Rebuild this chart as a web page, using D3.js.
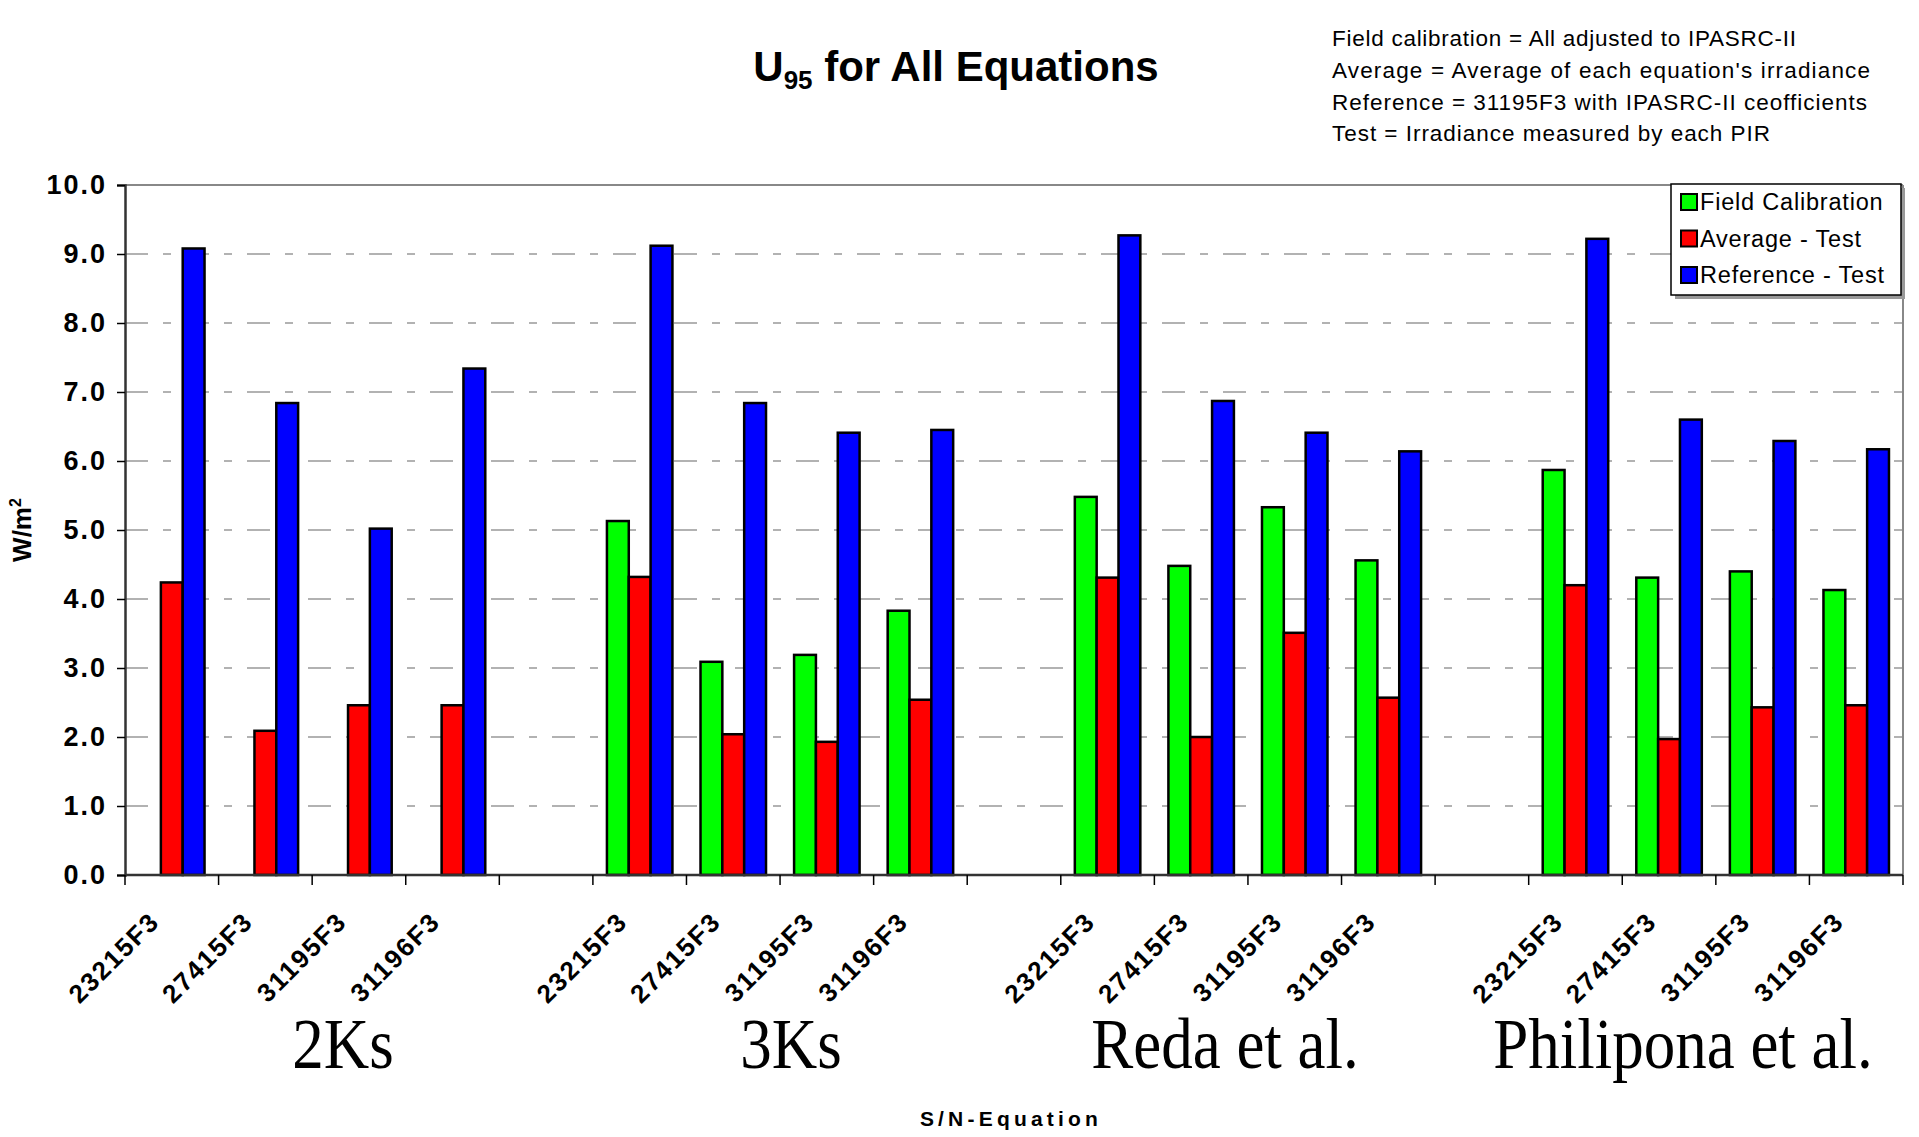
<!DOCTYPE html>
<html>
<head>
<meta charset="utf-8">
<script src="https://cdn.jsdelivr.net/npm/d3@7"></script>
<style>
  body { margin: 0; background: #fff; }
  svg { display: block; font-family: Arial, "Liberation Sans", sans-serif; }
</style>
</head>
<body>
<svg id="chart" width="1919" height="1137"></svg>
<script>
// data
var groups = ["2Ks", "3Ks", "Reda et al.", "Philipona et al."];
var serials = ["23215F3", "27415F3", "31195F3", "31196F3"];
var seriesNames = ["Field Calibration", "Average - Test", "Reference - Test"];
var seriesColors = ["#00ff00", "#ff0000", "#0000ff"];

// one row per group, one value per serial (null = no bar)
var fieldCal = [
  [null, null, null, null],
  [5.13, 3.09, 3.19, 3.83],
  [5.48, 4.48, 5.33, 4.56],
  [5.87, 4.31, 4.40, 4.13]
];
var avgTest = [
  [4.24, 2.09, 2.46, 2.46],
  [4.32, 2.04, 1.93, 2.54],
  [4.31, 2.00, 3.51, 2.57],
  [4.20, 1.97, 2.43, 2.46]
];
var refTest = [
  [9.08, 6.84, 5.02, 7.34],
  [9.12, 6.84, 6.41, 6.45],
  [9.27, 6.87, 6.41, 6.14],
  [9.22, 6.60, 6.29, 6.17]
];
var yTicks = [0, 1, 2, 3, 4, 5, 6, 7, 8, 9, 10];
var notes = [
  "Field calibration = All adjusted to IPASRC-II",
  "Average = Average of each equation's irradiance",
  "Reference = 31195F3 with IPASRC-II ceofficients",
  "Test = Irradiance measured by each PIR"
];

// build the 19 slots (4 groups of 4 with a blank slot between)
var slots = [];
groups.forEach(function(g, gi) {
  if (gi > 0) slots.push({key: "gap" + gi, label: "", values: null});
  serials.forEach(function(s, si) {
    slots.push({key: g + "|" + s, label: s, group: gi,
      values: [fieldCal[gi][si], avgTest[gi][si], refTest[gi][si]]});
  });
});

var svg = d3.select("#chart");
var plotL = 125, plotR = 1903, plotT = 185, plotB = 875;

var x = d3.scaleBand().domain(slots.map(function(d) { return d.key; }))
    .range([plotL, plotR]).padding(0);
var bw = x.bandwidth();
var xs = d3.scaleBand().domain(seriesNames).range([bw * 0.15, bw * 0.85]).padding(0);
var y = d3.scaleLinear().domain([0, 10]).range([plotB, plotT]);

// gridlines
svg.append("g").selectAll("line")
  .data(yTicks.filter(function(t) { return t > 0 && t < 10; }))
  .enter().append("line")
    .attr("x1", plotL).attr("x2", plotR)
    .attr("y1", function(d) { return y(d); })
    .attr("y2", function(d) { return y(d); })
    .attr("stroke", "#999")
    .attr("stroke-width", 1.5)
    .attr("stroke-dasharray", "23,15,8,15");

// plot frame top/right
svg.append("line").attr("x1", plotL).attr("x2", plotR).attr("y1", plotT).attr("y2", plotT)
  .attr("stroke", "#888").attr("stroke-width", 2);
svg.append("line").attr("x1", plotR).attr("x2", plotR).attr("y1", plotT).attr("y2", plotB)
  .attr("stroke", "#888").attr("stroke-width", 2);

// bars
var bars = [];
slots.forEach(function(s) {
  if (!s.values) return;
  s.values.forEach(function(v, i) {
    if (v == null) return;
    bars.push({slot: s.key, series: seriesNames[i], color: seriesColors[i], value: v});
  });
});
svg.append("g").selectAll("rect")
  .data(bars)
  .enter().append("rect")
    .attr("x", function(d) { return x(d.slot) + xs(d.series); })
    .attr("y", function(d) { return y(d.value); })
    .attr("width", xs.bandwidth())
    .attr("height", function(d) { return y(0) - y(d.value); })
    .attr("fill", function(d) { return d.color; })
    .attr("stroke", "#000")
    .attr("stroke-width", 2.5);

// y axis
var yAxis = d3.axisLeft(y).tickValues(yTicks).tickSize(8).tickPadding(10)
  .tickFormat(d3.format(".1f"));
var yg = svg.append("g").attr("transform", "translate(" + plotL + ",0)").call(yAxis);
yg.select(".domain").attr("stroke", "#333").attr("stroke-width", 2.5);
yg.selectAll(".tick line").attr("stroke", "#000").attr("stroke-width", 1.5);
yg.selectAll(".tick text")
  .attr("font-family", "Arial, 'Liberation Sans', sans-serif")
  .attr("font-size", 27).attr("font-weight", "bold").attr("fill", "#000")
  .attr("letter-spacing", 2);

// x axis (ticks at slot boundaries)
var bounds = slots.map(function(d) { return x(d.key); }).concat([plotR]);
svg.append("line").attr("x1", plotL).attr("x2", plotR).attr("y1", plotB).attr("y2", plotB)
  .attr("stroke", "#333").attr("stroke-width", 2.5);
svg.append("g").selectAll("line").data(bounds).enter().append("line")
  .attr("x1", function(d) { return d; }).attr("x2", function(d) { return d; })
  .attr("y1", plotB).attr("y2", plotB + 10)
  .attr("stroke", "#000").attr("stroke-width", 1.5);

svg.append("g").selectAll("text")
  .data(slots.filter(function(d) { return d.label; }))
  .enter().append("text")
    .attr("transform", function(d) {
      return "translate(" + (x(d.key) + bw / 2 - 24) + "," + 910 + ") rotate(-45)";
    })
    .attr("text-anchor", "end")
    .attr("dy", "0.72em")
    .attr("font-size", 26).attr("font-weight", "bold")
    .attr("letter-spacing", 1.8)
    .text(function(d) { return d.label; });

// group labels (serif, slightly tall)
var groupLabelX = [343, 791, 1225, 1683];
svg.append("g").selectAll("text")
  .data(groups)
  .enter().append("text")
    .attr("transform", function(d, i) {
      return "translate(" + groupLabelX[i] + ",1068) scale(1,1.15)";
    })
    .attr("text-anchor", "middle")
    .style("font-family", "'Liberation Serif', 'Times New Roman', serif")
    .attr("font-size", 63)
    .text(function(d) { return d; });

// axis titles
svg.append("text")
  .attr("x", 1011).attr("y", 1126)
  .attr("text-anchor", "middle")
  .attr("font-size", 21).attr("font-weight", "bold")
  .attr("letter-spacing", 4.2)
  .text("S/N-Equation");

var yt = svg.append("text")
  .attr("transform", "translate(31,530) rotate(-90)")
  .attr("text-anchor", "middle")
  .attr("font-size", 26).attr("font-weight", "bold");
yt.append("tspan").text("W/m");
yt.append("tspan").attr("font-size", 16).attr("dy", -10).text("2");

// title
var title = svg.append("text")
  .attr("x", 956).attr("y", 81)
  .attr("text-anchor", "middle")
  .attr("font-size", 42).attr("font-weight", "bold");
title.append("tspan").text("U");
title.append("tspan").attr("font-size", 26).attr("dy", 8).text("95");
title.append("tspan").attr("dy", -8).text(" for All Equations");

// notes top right
var noteWidths = [464, 538, 535, 438];
svg.append("g").selectAll("text")
  .data(notes)
  .enter().append("text")
    .attr("x", 1332)
    .attr("y", function(d, i) { return 46 + i * 31.8; })
    .attr("font-size", 22.5)
    .attr("textLength", function(d, i) { return noteWidths[i]; })
    .attr("lengthAdjust", "spacing")
    .text(function(d) { return d; });

// legend
var lg = svg.append("g").attr("transform", "translate(1671,184)");
lg.append("rect").attr("x", 4).attr("y", 4).attr("width", 230).attr("height", 111)
  .attr("fill", "#999");
lg.append("rect").attr("width", 230).attr("height", 111)
  .attr("fill", "#fff").attr("stroke", "#000").attr("stroke-width", 1.5);
var items = lg.selectAll("g.item").data(seriesNames).enter().append("g")
  .attr("class", "item")
  .attr("transform", function(d, i) { return "translate(0," + (18 + i * 36.5) + ")"; });
items.append("rect")
  .attr("x", 10).attr("y", -8).attr("width", 16).attr("height", 16)
  .attr("fill", function(d, i) { return seriesColors[i]; })
  .attr("stroke", "#000").attr("stroke-width", 2);
items.append("text")
  .attr("x", 29).attr("dy", "0.36em")
  .attr("font-size", 23.5)
  .attr("letter-spacing", 0.8)
  .text(function(d) { return d; });
</script>
</body>
</html>
